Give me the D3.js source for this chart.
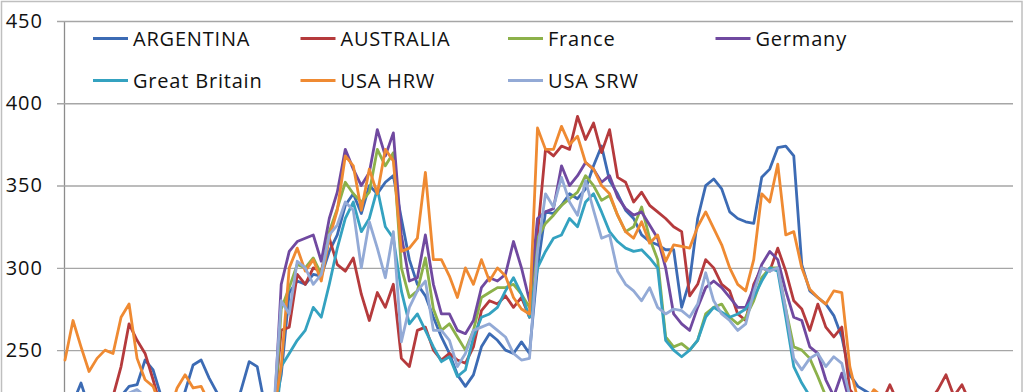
<!DOCTYPE html>
<html>
<head>
<meta charset="utf-8">
<script src="https://cdn.jsdelivr.net/npm/d3@7/dist/d3.min.js"></script>
<style>
  html, body { margin: 0; padding: 0; background: #fff; }
  svg { display: block; }
</style>
</head>
<body>
<svg id="chart" width="1024" height="392"></svg>
<script>
// ---- Data (weekly price index) ----
const seriesNames = ["ARGENTINA", "AUSTRALIA", "France", "Germany", "Great Britain", "USA HRW", "USA SRW"];
const yTicks = [250, 300, 350, 400, 450];

const argentina = [215,218,230,215,212,210,215,222,228,229,244,238,222,212,210,225,241,244,233,224,212,210,226,243,240,215,210,
  235,285,292,290,296,295,310,320,338,345,333,350,345,352,356,330,305,290,283,270,258,248,235,228,235,252,260,256,250,248,255,248,300,
  334,333,338,345,342,348,362,374,353,345,335,330,320,316,314,311,311,276,292,330,350,354,348,334,330,328,327,355,360,373,374,368,302,286,282,278,271,258,235,228,225,222,
  220,218,216,214,212,210,208,206,204,205,203,201,200,198,197,196,195];
const australia = [205,208,210,206,204,212,222,240,266,256,248,232,215,210,205,207,212,208,204,200,198,202,206,204,200,203,208,
  262,264,296,290,300,298,318,302,298,306,284,268,285,276,290,245,240,262,264,250,244,248,244,242,252,274,280,278,283,276,282,270,320,
  372,368,374,372,392,378,388,370,384,355,352,340,346,338,334,330,325,322,283,290,305,300,290,286,272,268,290,300,298,312,298,280,275,262,278,264,258,264,226,220,217,215,218,229,218,215,213,216,219,226,235,222,229,218,215,213,215,212,214];
const france = [200,203,206,204,201,198,205,210,214,212,208,204,200,197,195,199,203,206,202,198,195,193,197,201,204,200,198,
  275,288,302,300,306,296,322,336,352,345,340,346,372,362,370,300,282,286,306,275,262,266,258,250,262,282,285,288,288,290,284,276,318,
  327,332,338,342,346,356,350,341,344,332,322,325,337,318,305,258,252,254,250,256,272,276,278,270,266,270,280,294,300,300,275,252,250,245,234,222,215,
  212,210,208,206,204,203,201,200,202,204,203,201,199,198,197,199,200,198,196,195,194,193];
const germany = [205,208,210,207,203,200,206,212,216,214,210,206,202,199,197,201,205,208,204,200,197,195,199,203,206,202,200,
  290,310,316,318,320,304,330,346,372,360,350,358,384,368,382,320,292,294,320,290,272,272,262,260,268,288,294,292,296,316,300,280,330,
  334,336,362,350,356,364,360,352,356,343,336,332,334,326,318,300,272,266,262,276,288,292,288,282,276,276,288,302,310,305,286,270,268,252,248,232,222,236,218,212,
  210,208,206,204,205,203,201,200,199,201,203,202,200,198,197,196,198,197,195];
const greatBritain = [195,198,200,197,194,192,197,202,206,204,200,196,193,190,188,192,196,199,195,191,188,186,190,194,197,193,191,
  240,248,256,262,276,270,290,312,330,340,322,330,348,325,318,286,266,272,262,252,243,246,234,238,258,270,272,276,286,294,284,270,300,
  310,318,320,330,325,340,345,334,322,316,312,310,311,306,300,256,250,246,250,256,270,276,273,270,272,275,282,292,300,298,270,240,230,222,
  215,212,210,208,206,204,202,200,199,198,200,202,201,199,197,196,195,194,196,195,193,192,191,190,189];
const usaHRW = [244,268,252,237,245,250,248,270,278,245,232,228,215,212,227,235,227,228,218,212,208,206,210,214,212,208,210,
  240,300,312,298,305,292,318,335,368,362,335,360,345,372,365,310,312,318,358,305,305,295,282,300,290,305,292,300,295,282,275,272,385,
  372,372,386,375,380,364,360,350,345,332,322,318,328,315,320,304,314,313,312,325,334,324,314,300,290,286,305,345,340,363,320,322,300,287,282,278,286,285,240,220,218,226,222,
  220,218,216,214,215,213,211,210,212,210,208,207,206,205,204,203];
const usaSRW = [210,213,215,212,208,206,212,218,224,226,222,216,212,208,205,210,214,217,213,209,206,204,208,212,215,211,209,
  280,272,304,300,290,296,320,326,340,335,300,328,312,294,322,255,276,286,292,262,262,256,240,248,262,264,266,262,258,248,244,245,310,
  345,337,355,340,332,353,335,318,320,298,290,286,280,288,276,272,275,274,270,278,297,280,272,268,262,266,285,300,298,300,275,245,238,245,248,240,246,242,222,
  215,212,210,208,206,205,203,202,204,206,205,203,201,200,199,198,200,198,197,196];

const seriesValues = [argentina, australia, france, germany, greatBritain, usaHRW, usaSRW];
const colors = ["#3c6bb4", "#b53a3c", "#8cb14a", "#7049a0", "#34a2c0", "#ef8a32", "#93aad6"];
const weeks = argentina.map((_, i) => i);

// ---- Layout ----
const svg = d3.select("#chart");
const axisX = 64, plotRight = 1013, plotTop = 21;

const x = d3.scaleLinear().domain([0, weeks.length - 1]).range([65, 1010]);
const y = d3.scaleLinear().domain([100, 450]).range([597, plotTop]);

// outer chart border
svg.append("rect")
  .attr("x", 1.5).attr("y", 1.5).attr("width", 1020.5).attr("height", 500)
  .attr("fill", "#fff").attr("stroke", "#bfbfbf").attr("stroke-width", 1.5);

// y axis with gridlines
const yAxis = d3.axisLeft(y).tickValues(yTicks).tickSize(7).tickSizeOuter(0).tickPadding(14);
const gAxis = svg.append("g").attr("transform", `translate(${axisX},0)`).call(yAxis);
gAxis.select(".domain").attr("stroke", "#8c8c8c").attr("stroke-width", 1.3);
gAxis.selectAll(".tick line")
  .attr("x1", plotRight - axisX)
  .attr("stroke", "#a6a6a6").attr("stroke-width", 1.4);
gAxis.selectAll(".tick text")
  .attr("font-family", "'Open Sans', sans-serif")
  .attr("font-size", 20)
  .attr("letter-spacing", 1)
  .attr("fill", "#111");

// lines
const line = d3.line()
  .x((d, i) => x(weeks[i]))
  .y(d => y(d));

svg.append("g").selectAll("path")
  .data(seriesValues)
  .join("path")
  .attr("d", d => line(d))
  .attr("fill", "none")
  .attr("stroke", (d, i) => colors[i])
  .attr("stroke-width", 2.8)
  .attr("stroke-linejoin", "round")
  .attr("stroke-linecap", "round");

// legend
const legendCols = [93, 300.5, 508, 715.5];
const legendRows = [38.5, 80.5];
const legend = svg.append("g").selectAll("g")
  .data(seriesNames)
  .join("g")
  .attr("transform", (d, i) => `translate(${legendCols[i % 4]},${legendRows[Math.floor(i / 4)]})`);
legend.append("line")
  .attr("x1", 0).attr("x2", 35).attr("y1", 0).attr("y2", 0)
  .attr("stroke", (d, i) => colors[i]).attr("stroke-width", 3);
legend.append("text")
  .attr("x", 40).attr("y", 0)
  .attr("dominant-baseline", "central")
  .attr("font-family", "'Open Sans', sans-serif")
  .attr("font-size", 20)
  .attr("letter-spacing", 0.8)
  .attr("fill", "#111")
  .text(d => d);
</script>
</body>
</html>
